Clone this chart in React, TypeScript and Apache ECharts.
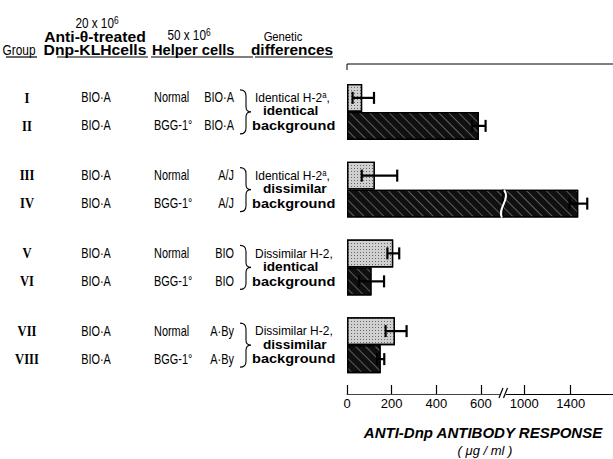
import React, { useEffect, useRef } from 'react';
import * as echarts from 'echarts';

// ---------------- data ----------------
const groups = ['I', 'II', 'III', 'IV', 'V', 'VI', 'VII', 'VIII'];
const donorCells = ['BIO·A', 'BIO·A', 'BIO·A', 'BIO·A', 'BIO·A', 'BIO·A', 'BIO·A', 'BIO·A'];
const helperTypes = ['Normal', 'BGG-1°', 'Normal', 'BGG-1°', 'Normal', 'BGG-1°', 'Normal', 'BGG-1°'];
const helperStrains = ['BIO·A', 'BIO·A', 'A/J', 'A/J', 'BIO', 'BIO', 'A·By', 'A·By'];
const geneticFirst = ['Identical H-2{s|a},', 'Identical H-2{s|a},', 'Dissimilar H-2,', 'Dissimilar H-2,'];
const geneticSecond = ['identical', 'dissimilar', 'identical', 'dissimilar'];
const geneticThird = ['background', 'background', 'background', 'background'];
const pairCategories = ['I/II', 'III/IV', 'V/VI', 'VII/VIII'];

const normalValues = [68, 125, 207, 215];
const normalLow = [25, 66, 181, 173];
const normalHigh = [121, 225, 234, 267];
const bggValues = [591, 1465, 110, 151];
const bggLow = [561, 1390, 54, 135];
const bggHigh = [621, 1543, 166, 167];

const lowTicks = [0, 200, 400, 600];
const highTicks = [1000, 1400];

// ---------------- layout ----------------
const W = 613;
const H = 459;
const GRID_TOP = 73;
const GRID_H = 311;
const GRID_LEFT = 347;
const BREAK_X = 503;
const LOW_MAX = 699;
const HIGH_MIN = 816;
const HIGH_MAX = 1765;
const BAR = 28;

const SANS = "'Liberation Sans', Arial, sans-serif";
const SERIF = "'Liberation Serif', 'DejaVu Serif', serif";
const INK = '#000';

const BRACE_D = 'M-11,-22 Q-5,-22 -5,-16 L-5,-5 Q-5,0 0,0 Q-5,0 -5,5 L-5,16 Q-5,22 -11,22';
echarts.graphic.registerShape('brace', echarts.graphic.extendPath(BRACE_D, {}));

const band = GRID_H / pairCategories.length;
const catCenter = (g: number) => GRID_TOP + band * (g + 0.5);
const rowCenter = (i: number) => catCenter(Math.floor(i / 2)) + (i % 2 === 0 ? -BAR / 2 : BAR / 2);

const txt = (text: string, x: number, y: number, o: any = {}) => ({
  type: 'text',
  x,
  y,
  scaleX: o.scaleX || 1,
  silent: true,
  style: {
    text,
    fill: INK,
    fontFamily: o.fontFamily || SANS,
    fontSize: o.fontSize || 12,
    fontWeight: o.fontWeight || 'normal',
    fontStyle: o.fontStyle || 'normal',
    textAlign: o.align || 'left',
    textVerticalAlign: 'middle',
    rich: o.rich,
  },
});

const line = (x1: number, y1: number, x2: number, y2: number, w = 1) => ({
  type: 'line',
  silent: true,
  shape: { x1, y1, x2, y2 },
  style: { stroke: INK, lineWidth: w },
});

export default function App() {
  const ref = useRef<HTMLDivElement>(null);

  useEffect(() => {
    document.body.style.margin = '0';
    if (!ref.current) return;
    const chart = echarts.init(ref.current, undefined, { renderer: 'svg' });

    const supRich = { s: { fontSize: 8.5, verticalAlign: 'top', fontFamily: SANS, fill: INK } };
    const N = 0.78;
    const supSix = { s: { fontSize: 10, verticalAlign: 'top', fontFamily: SANS, fill: INK } };

    const graphics: any[] = [];
    // header
    graphics.push(txt('20 x 10{s|6}', 97, 23, { align: 'center', fontSize: 14, scaleX: 0.84, rich: supSix }));
    graphics.push(txt('Anti-θ-treated', 95, 37, { align: 'center', fontSize: 14, fontWeight: 'bold', scaleX: 1.12 }));
    graphics.push(txt('Group', 19, 50, { align: 'center', fontSize: 14, scaleX: 0.85 }));
    graphics.push(txt('Dnp-KLHcells', 95, 50, { align: 'center', fontSize: 14, fontWeight: 'bold', scaleX: 1.12 }));
    graphics.push(txt('50 x 10{s|6}', 189, 35, { align: 'center', fontSize: 14, scaleX: 0.84, rich: supSix }));
    graphics.push(txt('Helper cells', 152, 50, { fontSize: 14, fontWeight: 'bold', scaleX: 1.05 }));
    graphics.push(txt('Genetic', 283, 37, { align: 'center', fontSize: 12.5, scaleX: 0.9 }));
    graphics.push(txt('differences', 292, 50, { align: 'center', fontSize: 14, fontWeight: 'bold', scaleX: 1.1 }));
    graphics.push(line(6, 57, 37, 57, 1.2));
    graphics.push(line(57, 57, 148, 57, 1.2));
    graphics.push(line(151, 57, 253, 57, 1.2));
    graphics.push(line(255, 57, 333, 57, 1.2));

    // rows
    groups.forEach((g, i) => {
      const y = rowCenter(i);
      graphics.push(txt(g, 27, y, { align: 'center', fontSize: 14, fontFamily: SERIF, fontWeight: 'bold', scaleX: 0.9 }));
      graphics.push(txt(donorCells[i], 96, y, { align: 'center', fontSize: 14, scaleX: N }));
      graphics.push(txt(helperTypes[i], 154, y, { fontSize: 14, scaleX: N }));
      graphics.push(txt(helperStrains[i], 234, y, { align: 'right', fontSize: 14, scaleX: N }));
    });
    pairCategories.forEach((_, g) => {
      const c = catCenter(g);
      graphics.push({ type: 'brace', x: 251, y: c, silent: true, style: { stroke: INK, fill: 'none', lineWidth: 1.1 } });
      graphics.push(txt(geneticFirst[g], 255, c - 14, { fontSize: 13, scaleX: 0.92, rich: supRich }));
      graphics.push(txt(geneticSecond[g], 263, c - 1, { fontSize: 13, fontWeight: 'bold', scaleX: 1.05 }));
      graphics.push(txt(geneticThird[g], 252, c + 14, { fontSize: 13, fontWeight: 'bold', scaleX: 1.12 }));
    });

    // top frame line
    graphics.push({
      type: 'polyline',
      silent: true,
      shape: { points: [[GRID_LEFT, 70], [GRID_LEFT, 64], [W, 64]] },
      style: { stroke: INK, lineWidth: 1, fill: 'none' },
    });

    // cut on the long bar (group III/IV, lower bar)
    const cutTop = catCenter(1);
    graphics.push({
      type: 'bezierCurve',
      silent: true,
      z: 100,
      shape: {
        x1: BREAK_X + 1, y1: cutTop + 0.5,
        cpx1: BREAK_X + 8, cpy1: cutTop + 9,
        cpx2: BREAK_X - 6, cpy2: cutTop + 19,
        x2: BREAK_X - 1, y2: cutTop + BAR,
      },
      style: { stroke: '#fff', lineWidth: 2, fill: 'none' },
    });

    // axis break marks
    const axisY = GRID_TOP + GRID_H + 10;
    graphics.push({ type: 'rect', silent: true, z: 100, shape: { x: BREAK_X - 3, y: axisY - 2, width: 6, height: 4 }, style: { fill: '#fff' } });
    graphics.push({ ...line(BREAK_X - 4, axisY + 4, BREAK_X, axisY - 6, 1.2), z: 101 });
    graphics.push({ ...line(BREAK_X + 0.5, axisY + 4, BREAK_X + 4.5, axisY - 6, 1.2), z: 101 });

    // axis titles
    graphics.push(txt('ANTI-Dnp ANTIBODY RESPONSE', 483, 432, { align: 'center', fontSize: 15, fontWeight: 'bold', fontStyle: 'italic' }));
    graphics.push(txt('( μg / ml )', 485, 450, { align: 'center', fontSize: 13, fontStyle: 'italic' }));

    const normalStyle = {
      color: '#d0d0d0',
      borderColor: INK,
      borderWidth: 1.3,
      decal: { symbol: 'rect', symbolSize: 1, color: 'rgba(0,0,0,0.5)', dashArrayX: [1, 2], dashArrayY: [1, 2], rotation: 0 },
    };
    const bggStyle = {
      color: '#101010',
      borderColor: INK,
      borderWidth: 1.3,
      decal: { symbol: 'rect', symbolSize: 1, color: 'rgba(255,255,255,0.32)', dashArrayX: [1, 0], dashArrayY: [1, 6], rotation: Math.PI / 4 },
    };

    const errData = (lo: number[], hi: number[], side: number) => lo.map((l, i) => [i, l, hi[i], side]);
    const renderErr = (params: any, api: any) => {
      const cat = api.value(0);
      const lo = api.value(1);
      const hi = api.value(2);
      const side = api.value(3);
      const p1 = api.coord([lo, cat]);
      const p2 = api.coord([hi, cat]);
      const y = p1[1] + (side * BAR) / 2;
      const cap = 6;
      const st = { stroke: INK, lineWidth: 2.2 };
      return {
        type: 'group',
        children: [
          { type: 'line', shape: { x1: p1[0], y1: y, x2: p2[0], y2: y }, style: st },
          { type: 'line', shape: { x1: p1[0], y1: y - cap, x2: p1[0], y2: y + cap }, style: st },
          { type: 'line', shape: { x1: p2[0], y1: y - cap, x2: p2[0], y2: y + cap }, style: st },
        ],
      };
    };

    const series: any[] = [];
    [0, 1].forEach((gi) => {
      series.push({
        type: 'bar', xAxisIndex: gi, yAxisIndex: gi, data: normalValues, barWidth: BAR, barGap: '0%',
        itemStyle: normalStyle, clip: true, silent: true,
      });
      series.push({
        type: 'bar', xAxisIndex: gi, yAxisIndex: gi, data: bggValues, barWidth: BAR, barGap: '0%',
        itemStyle: bggStyle, clip: true, silent: true,
      });
      series.push({
        type: 'custom', xAxisIndex: gi, yAxisIndex: gi, data: errData(normalLow, normalHigh, -1),
        encode: { x: [1, 2], y: 0 }, renderItem: renderErr, clip: true, silent: true, z: 5,
      });
      series.push({
        type: 'custom', xAxisIndex: gi, yAxisIndex: gi, data: errData(bggLow, bggHigh, 1),
        encode: { x: [1, 2], y: 0 }, renderItem: renderErr, clip: true, silent: true, z: 5,
      });
    });

    const xAxisBase = (gi: number, min: number, max: number, ticks: number[], lineColor: string) => ({
      type: 'value',
      gridIndex: gi,
      min,
      max,
      offset: 10,
      axisLine: { show: true, onZero: false, lineStyle: { color: lineColor, width: 1 } },
      axisTick: { show: true, inside: true, length: 9, customValues: ticks, lineStyle: { color: INK, width: 1.2 } },
      axisLabel: {
        customValues: ticks,
        margin: 3,
        fontSize: 13,
        color: INK,
        fontFamily: SANS,
        formatter: (v: number) => String(v),
      },
      splitLine: { show: false },
    });

    chart.setOption({
      animation: false,
      backgroundColor: '#fff',
      grid: [
        { left: GRID_LEFT, top: GRID_TOP, width: BREAK_X - GRID_LEFT, height: GRID_H },
        { left: BREAK_X, top: GRID_TOP, width: W - BREAK_X, height: GRID_H },
      ],
      xAxis: [
        xAxisBase(0, 0, LOW_MAX, lowTicks, '#444'),
        xAxisBase(1, HIGH_MIN, HIGH_MAX, highTicks, INK),
      ],
      yAxis: [
        { type: 'category', gridIndex: 0, data: pairCategories, inverse: true, show: false },
        { type: 'category', gridIndex: 1, data: pairCategories, inverse: true, show: false },
      ],
      series,
      graphic: graphics,
    });

    return () => {
      chart.dispose();
    };
  }, []);

  return <div ref={ref} style={{ width: W, height: H }} />;
}
